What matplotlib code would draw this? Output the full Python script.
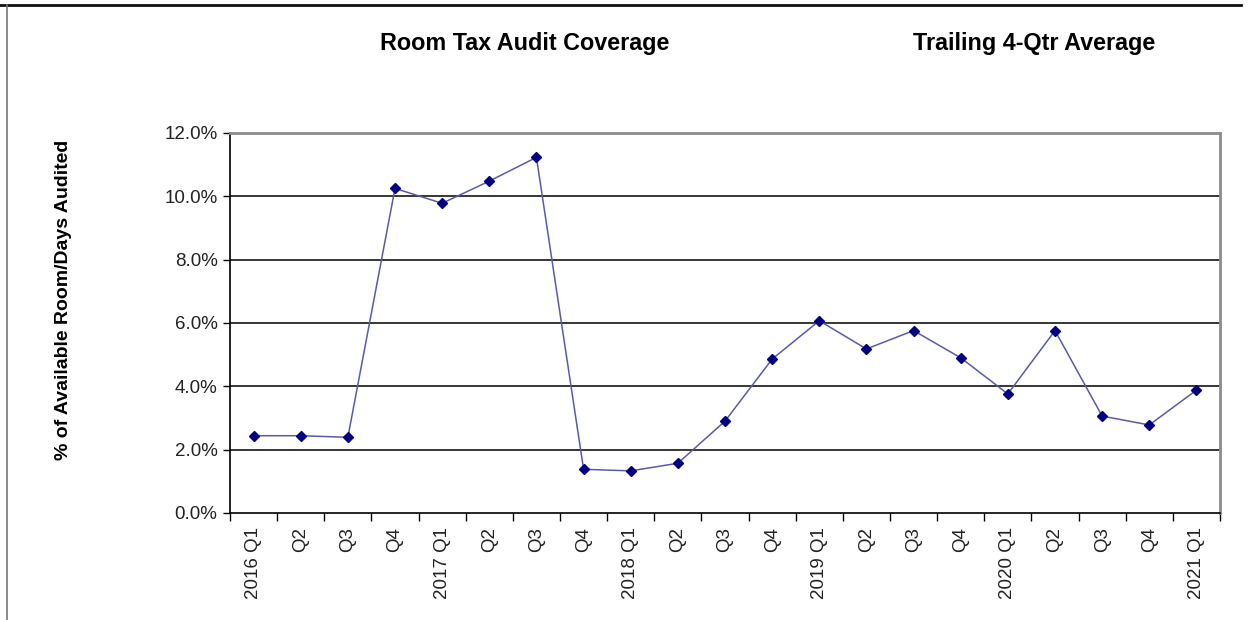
import numpy as np
from matplotlib import pyplot as plt
from matplotlib.lines import Line2D
from matplotlib.ticker import FixedLocator, FuncFormatter

plt.rcParams['font.family'] = ['Liberation Sans', 'DejaVu Sans']

# Quarter labels and audit coverage values (percent)
quarters = ["2016 Q1", "Q2", "Q3", "Q4",
            "2017 Q1", "Q2", "Q3", "Q4",
            "2018 Q1", "Q2", "Q3", "Q4",
            "2019 Q1", "Q2", "Q3", "Q4",
            "2020 Q1", "Q2", "Q3", "Q4",
            "2021 Q1"]
coverage = [2.44, 2.44, 2.39, 10.25, 9.78, 10.48, 11.23,
            1.38, 1.33, 1.57, 2.90, 4.86, 6.07, 5.18,
            5.76, 4.90, 3.76, 5.76, 3.06, 2.78, 3.88]
y_ticks = [0, 2, 4, 6, 8, 10, 12]

fig = plt.figure(figsize=(12.5, 6.2), dpi=100)
ax = fig.add_axes([0.184, 0.1726, 0.792, 0.6129])

x = np.arange(len(quarters))
ax.plot(x, coverage, color='#5a5aa6', linewidth=1.1, zorder=3)
ax.plot(x, coverage, linestyle='none', marker='D', markersize=5.5,
        color='#000080', zorder=4)

ax.set_xlim(-0.5, len(quarters) - 0.5)
ax.set_ylim(0, 12)

# gridlines
for v in y_ticks[1:-1]:
    ax.axhline(v, color='#000000', linewidth=1.1, zorder=1)

ax.yaxis.set_major_locator(FixedLocator(y_ticks))
ax.yaxis.set_major_formatter(FuncFormatter(lambda v, p: '%.1f%%' % v))
ax.tick_params(axis='y', direction='out', length=5, width=1, labelsize=13.5,
               pad=4, colors='#000000', labelcolor='#222222')

# x: tick marks at category boundaries, labels at centres
ax.set_xticks(x)
ax.set_xticklabels(quarters, rotation=90, fontsize=13.5, color='#222222')
ax.set_xticks(np.arange(-0.5, len(quarters)), minor=True)
ax.tick_params(axis='x', which='major', length=0, pad=10)
ax.tick_params(axis='x', which='minor', direction='out', length=6, width=1)

for side in ['top', 'right']:
    ax.spines[side].set_color('#8c8c8c')
    ax.spines[side].set_linewidth(2)
for side in ['left', 'bottom']:
    ax.spines[side].set_color('#000000')
    ax.spines[side].set_linewidth(1.2)

ax.set_ylabel('% of Available Room/Days Audited', fontsize=14,
              fontweight='bold', labelpad=0)
ax.yaxis.set_label_coords(-0.16, 0.56)

fig.text(0.42, 0.93, 'Room Tax Audit Coverage', ha='center', va='center',
         fontsize=16.8, fontweight='bold')
fig.text(0.827, 0.93, 'Trailing 4-Qtr Average', ha='center', va='center',
         fontsize=16.8, fontweight='bold')

# outer frame of the screenshot
fig.add_artist(Line2D([0, 0.993], [1 - 5 / 620, 1 - 5 / 620],
                      transform=fig.transFigure, color='#111111', linewidth=2))
fig.add_artist(Line2D([7 / 1250, 7 / 1250], [0, 1 - 5 / 620],
                      transform=fig.transFigure, color='#777777', linewidth=1.2))

fig.savefig('out.png', dpi=100)
